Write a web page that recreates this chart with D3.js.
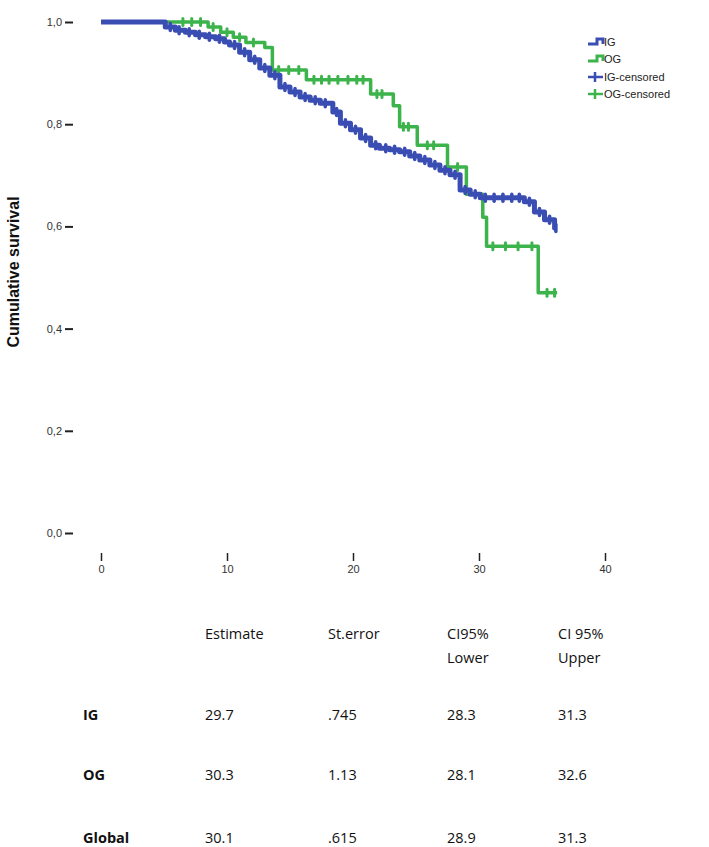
<!DOCTYPE html>
<html lang="en">
<head>
  <meta charset="UTF-8" />
  <title>Cumulative survival</title>
  <script src="https://d3js.org/d3.v7.min.js"></script>
  <style>
    body { margin: 0; padding: 0; background: white; }
    svg { background: white; display: block; }
    .tick text { font-family: Arial, "Liberation Sans", sans-serif; font-size: 11px; fill: #333; }
    .tick line { stroke: #222; stroke-width: 2px; }
    .legend-text { font-family: Arial, "Liberation Sans", sans-serif; font-size: 11px; fill: #222; }
    .tbl { font-family: "Open Sans", Lato, sans-serif; font-size: 14.5px; fill: #111; }
    .tbl-label { font-weight: bold; }
  </style>
</head>
<body>
  <svg id="chart" width="709" height="847"></svg>

  <script>
    // Kaplan-Meier steps (months, survival)
    const igTimes = [0, 5.1, 5.9, 6.7, 7.5, 8.3, 9.1, 9.8, 10.2, 11.0, 11.8, 12.6, 13.4, 14.2, 15.0, 15.8, 16.6, 17.4, 18.4, 19.0, 19.8, 20.6, 21.4, 22.1, 22.9, 23.7, 24.5, 25.3, 26.1, 26.9, 27.7, 28.5, 29.3, 30.1, 33.6, 34.4, 35.2, 36.0];
    const igSurv  = [1.0, 0.990, 0.984, 0.980, 0.975, 0.971, 0.967, 0.961, 0.955, 0.941, 0.926, 0.910, 0.896, 0.873, 0.863, 0.853, 0.847, 0.841, 0.824, 0.802, 0.789, 0.773, 0.759, 0.753, 0.750, 0.746, 0.738, 0.730, 0.720, 0.710, 0.701, 0.671, 0.663, 0.656, 0.648, 0.628, 0.613, 0.597];
    const igEnd = 36.2;
    const igCensored = [5.5, 6.2, 7.0, 7.8, 8.6, 9.4, 10.6, 11.4, 12.2, 13.0, 13.8, 14.6, 15.4, 16.2, 17.0, 17.8, 18.7, 19.4, 20.2, 21.0, 21.8, 22.6, 23.3, 24.1, 24.9, 25.7, 26.5, 27.3, 28.1, 28.9, 29.7, 30.5, 31.2, 31.9, 32.6, 33.2, 34.0, 34.8, 35.6, 36.1];

    const ogTimes = [0, 8.5, 9.5, 10.5, 11.5, 13.0, 13.6, 16.3, 21.4, 23.2, 23.7, 25.1, 27.5, 29.0, 30.3, 30.6, 34.7];
    const ogSurv  = [1.0, 0.990, 0.980, 0.970, 0.960, 0.950, 0.906, 0.887, 0.859, 0.836, 0.795, 0.759, 0.716, 0.663, 0.618, 0.561, 0.470];
    const ogEnd = 36.2;
    const ogCensored = [6.5, 7.2, 7.9, 8.9, 10.0, 11.0, 12.1, 14.1, 14.9, 15.7, 16.9, 17.5, 18.1, 18.8, 19.6, 20.3, 20.8, 21.9, 22.3, 24.0, 24.4, 25.9, 26.4, 28.3, 31.1, 32.1, 33.1, 34.2, 35.4, 36.0];

    const yTicks = [0, 0.2, 0.4, 0.6, 0.8, 1.0];
    const xTicks = [0, 10, 20, 30, 40];

    const legendLabels = ["IG", "OG", "IG-censored", "OG-censored"];

    const tableHeaders = [["Estimate"], ["St.error"], ["CI95%", "Lower"], ["CI 95%", "Upper"]];
    const tableRowLabels = ["IG", "OG", "Global"];
    const tableValues = [
      ["29.7", ".745", "28.3", "31.3"],
      ["30.3", "1.13", "28.1", "32.6"],
      ["30.1", ".615", "28.9", "31.3"]
    ];

    const blue = "#3a4db3";
    const green = "#3cb44b";

    const svg = d3.select("#chart");

    const x = d3.scaleLinear().domain([0, 40]).range([101, 605]);
    const y = d3.scaleLinear().domain([0, 1]).range([533, 22]);

    // axes (no domain line, just tick marks)
    const yAxis = svg.append("g")
      .attr("transform", "translate(73,0)")
      .call(d3.axisLeft(y).tickValues(yTicks).tickSize(8).tickPadding(3)
        .tickFormat(d => d3.format(".1f")(d).replace(".", ",")));
    yAxis.select(".domain").remove();

    const xAxis = svg.append("g")
      .attr("transform", "translate(0,553)")
      .call(d3.axisBottom(x).tickValues(xTicks).tickSize(8).tickPadding(4));
    xAxis.select(".domain").remove();
    xAxis.selectAll(".tick line").style("stroke-width", "1.5px");

    svg.append("text")
      .attr("transform", "translate(19,272) rotate(-90)")
      .attr("text-anchor", "middle")
      .style("font-family", "Arial, 'Liberation Sans', sans-serif")
      .style("font-size", "16px")
      .style("font-weight", "bold")
      .style("fill", "#111")
      .text("Cumulative survival");

    // step curves
    function stepPoints(times, surv, end) {
      const pts = times.map((t, i) => [t, surv[i]]);
      pts.push([end, surv[surv.length - 1]]);
      return pts;
    }
    function survAt(times, surv, t) {
      const i = d3.bisectRight(times, t) - 1;
      return surv[Math.max(0, i)];
    }

    const line = d3.line()
      .x(d => x(d[0]))
      .y(d => y(d[1]))
      .curve(d3.curveStepAfter);

    const groups = [
      { times: ogTimes, surv: ogSurv, end: ogEnd, cens: ogCensored, color: green, width: 3.5, mark: 3 },
      { times: igTimes, surv: igSurv, end: igEnd, cens: igCensored, color: blue, width: 5, mark: 3.5 }
    ];

    groups.forEach(g => {
      svg.append("path")
        .datum(stepPoints(g.times, g.surv, g.end))
        .attr("fill", "none")
        .attr("stroke", g.color)
        .attr("stroke-width", g.width)
        .attr("stroke-linejoin", "round")
        .attr("d", line);

      svg.selectAll(null)
        .data(g.cens)
        .join("line")
        .attr("x1", d => x(d))
        .attr("x2", d => x(d))
        .attr("y1", d => y(survAt(g.times, g.surv, d)) - 3.5)
        .attr("y2", d => y(survAt(g.times, g.surv, d)) + 3.5)
        .attr("stroke", g.color)
        .attr("stroke-width", g.mark)
        .attr("stroke-linecap", "round");
    });

    // legend
    const legend = svg.append("g").attr("transform", "translate(588,0)");
    const legendY = [42, 59, 77, 94];
    const legendColors = [blue, green, blue, green];
    legendLabels.forEach((lab, i) => {
      const ly = legendY[i];
      if (i < 2) {
        legend.append("path")
          .attr("d", `M0,${ly + 2} H9 V${ly - 3} H15 V${ly + 2}`)
          .attr("fill", "none")
          .attr("stroke", legendColors[i])
          .attr("stroke-width", 3);
      } else {
        legend.append("line")
          .attr("x1", 0).attr("x2", 15).attr("y1", ly).attr("y2", ly)
          .attr("stroke", legendColors[i]).attr("stroke-width", 2.5);
        legend.append("line")
          .attr("x1", 7).attr("x2", 7).attr("y1", ly - 5).attr("y2", ly + 5)
          .attr("stroke", legendColors[i]).attr("stroke-width", 2.5);
      }
      legend.append("text")
        .attr("class", "legend-text")
        .attr("x", 16)
        .attr("y", ly + 4)
        .text(lab);
    });

    // table
    const colX = [205, 328, 447, 558];
    const rowY = [720, 780, 843];
    const table = svg.append("g");
    tableHeaders.forEach((lines, c) => {
      lines.forEach((t, k) => {
        table.append("text")
          .attr("class", "tbl")
          .attr("x", colX[c])
          .attr("y", 639 + k * 24)
          .text(t);
      });
    });
    tableRowLabels.forEach((lab, r) => {
      table.append("text")
        .attr("class", "tbl tbl-label")
        .attr("x", 83)
        .attr("y", rowY[r])
        .text(lab);
      tableValues[r].forEach((v, c) => {
        table.append("text")
          .attr("class", "tbl")
          .attr("x", colX[c])
          .attr("y", rowY[r])
          .text(v);
      });
    });
  </script>
</body>
</html>
